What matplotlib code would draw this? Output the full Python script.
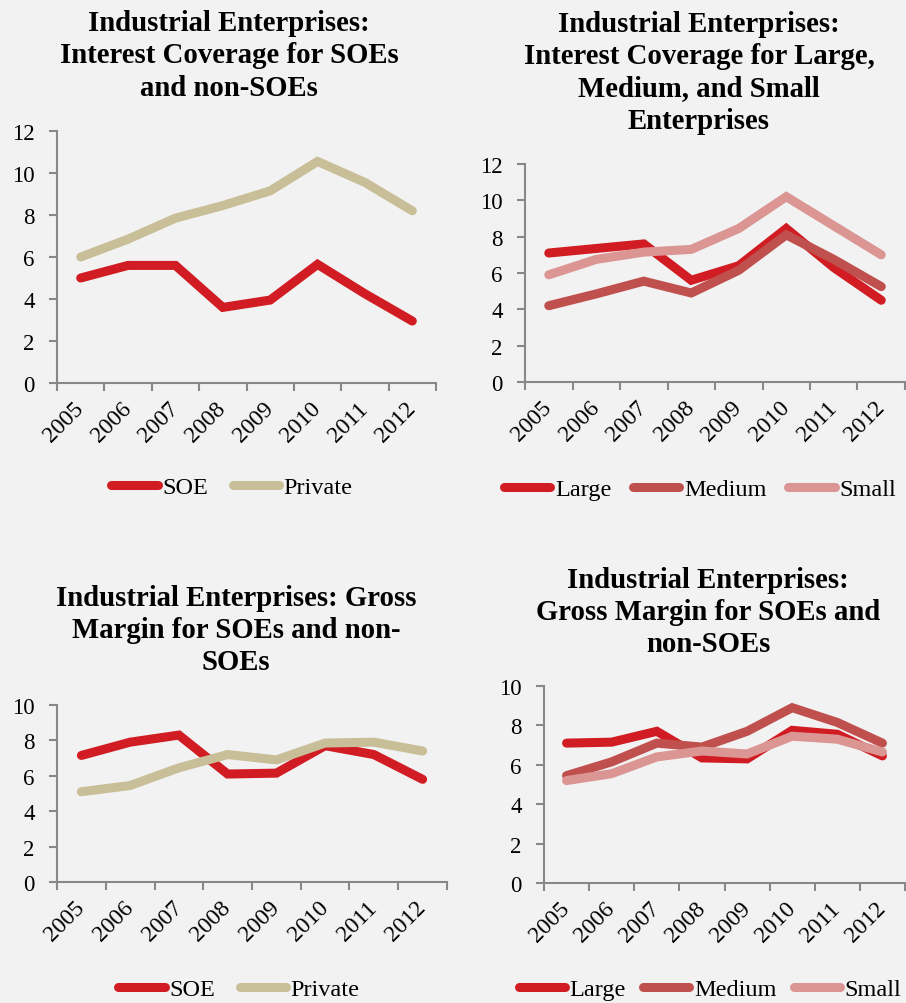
import numpy as np
import matplotlib
matplotlib.use('Agg')
import matplotlib.pyplot as plt

years = ['2005', '2006', '2007', '2008', '2009', '2010', '2011', '2012']

# interest coverage
ic_soe = [5.0, 5.6, 5.6, 3.6, 3.95, 5.65, 4.25, 2.95]
ic_private = [6.0, 6.85, 7.85, 8.45, 9.15, 10.55, 9.55, 8.2]
ic_large = [7.1, 7.35, 7.6, 5.6, 6.4, 8.45, 6.3, 4.5]
ic_medium = [4.2, 4.85, 5.55, 4.9, 6.15, 8.1, 6.75, 5.25]
ic_small = [5.9, 6.75, 7.15, 7.3, 8.45, 10.2, 8.6, 7.0]

# gross margin
gm_soe = [7.15, 7.9, 8.3, 6.1, 6.15, 7.7, 7.2, 5.8]
gm_private = [5.1, 5.45, 6.45, 7.2, 6.9, 7.85, 7.9, 7.4]
gm_large = [7.1, 7.15, 7.7, 6.35, 6.3, 7.75, 7.55, 6.45]
gm_medium = [5.45, 6.15, 7.1, 6.9, 7.7, 8.9, 8.15, 7.1]
gm_small = [5.2, 5.55, 6.4, 6.7, 6.55, 7.45, 7.3, 6.65]

red = '#d01c22'
tan = '#c8bf98'
medium_red = '#c0504d'
pink = '#db9593'
bg = '#f2f2f2'
grey = '#888888'

plt.rcParams['font.family'] = ['Liberation Serif', 'DejaVu Serif']

W, H = 906, 1004
fig = plt.figure(figsize=(W / 100, H / 100), dpi=100, facecolor=bg)


def rect(l, t, r, b):
    return [l / W, 1 - b / H, (r - l) / W, (b - t) / H]


def panel(box, series, ymax, title, title_xy, legend_xy, colsp):
    ax = fig.add_axes(rect(*box))
    ax.set_facecolor(bg)
    x = np.arange(len(years))
    handles = []
    for vals, col, lab in series:
        h, = ax.plot(x, vals, color=col, lw=6.5, solid_capstyle='round',
                     solid_joinstyle='miter', label=lab)
        handles.append(h)
    ax.set_xlim(-0.5, len(years) - 0.5)
    ax.set_ylim(0, ymax)
    ax.set_yticks(np.arange(0, ymax + 1, 2))
    ax.set_xticks(np.arange(-0.5, len(years), 1), minor=False)
    ax.set_xticklabels([])
    ax.set_xticks(x, minor=True)
    ax.set_xticklabels(years, minor=True, rotation=45, ha='right', va='center',
                       rotation_mode='anchor', fontsize=17)
    ax.tick_params(axis='x', which='minor', length=0, pad=16)
    ax.tick_params(axis='x', which='major', length=6, color=grey, width=1.5)
    ax.tick_params(axis='y', length=6, color=grey, width=1.5, labelsize=16.5, pad=10)
    for s in ['top', 'right']:
        ax.spines[s].set_visible(False)
    for s in ['left', 'bottom']:
        ax.spines[s].set_color(grey)
        ax.spines[s].set_linewidth(1.5)
    fig.text(title_xy[0] / W, 1 - title_xy[1] / H, title, ha='center', va='top',
             fontsize=20.7, fontweight='bold', linespacing=1.25)
    fig.legend(handles=handles, loc='center', ncol=len(handles),
               bbox_to_anchor=(legend_xy[0] / W, 1 - legend_xy[1] / H),
               frameon=False, fontsize=17.5, handlelength=1.9,
               handletextpad=0.2, columnspacing=colsp,
               borderpad=0, borderaxespad=0)
    return ax


panel((57, 132, 436, 384), [(ic_soe, red, 'SOE'), (ic_private, tan, 'Private')], 12,
      'Industrial Enterprises:\nInterest Coverage for SOEs\nand non-SOEs',
      (229, 10), (232, 488), 1.0)
panel((525, 165, 905, 383),
      [(ic_large, red, 'Large'), (ic_medium, medium_red, 'Medium'), (ic_small, pink, 'Small')], 12,
      'Industrial Enterprises:\nInterest Coverage for Large,\nMedium, and Small\nEnterprises',
      (699, 11), (700, 490), 0.9)
panel((57, 706, 447, 883), [(gm_soe, red, 'SOE'), (gm_private, tan, 'Private')], 10,
      'Industrial Enterprises: Gross\nMargin for SOEs and non-\nSOEs',
      (236, 585), (239, 990), 1.0)
panel((544, 687, 905, 884),
      [(gm_large, red, 'Large'), (gm_medium, medium_red, 'Medium'), (gm_small, pink, 'Small')], 10,
      'Industrial Enterprises:\nGross Margin for SOEs and\nnon-SOEs',
      (708, 567), (710, 990), 0.7)

fig.savefig('out.png', dpi=100, facecolor=bg)
